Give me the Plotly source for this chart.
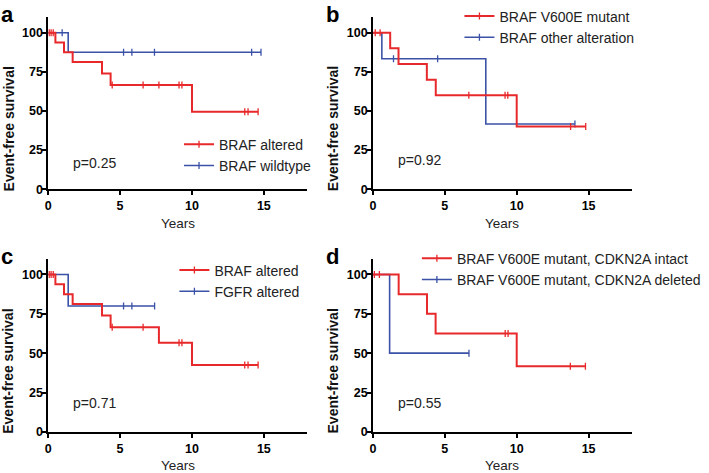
import numpy as np
import plotly.graph_objects as go

RED = "#e8292b"
BLUE = "#3b52a6"
FONT = "Liberation Sans, Arial, sans-serif"

# panel a: BRAF altered vs BRAF wildtype
a_red_t = [0, 0.5, 1.1, 1.7, 3.74, 4.34, 10.0, 14.6]
a_red_s = [100, 93.75, 87.5, 81.25, 73.9, 66.5, 49.5, 49.5]
a_red_cens = [0.07, 0.2, 0.35, 4.45, 6.6, 7.7, 9.1, 9.3, 13.67, 13.9, 14.6]
a_blue_t = [0, 1.39, 14.8]
a_blue_s = [100, 87.5, 87.5]
a_blue_cens = [0.97, 5.24, 5.82, 7.39, 14.15, 14.8]

# panel b: BRAF V600E mutant vs other alteration
b_red_t = [0, 1.2, 1.78, 3.75, 4.37, 10.0, 14.8]
b_red_s = [100, 90, 80, 70, 60, 40, 40]
b_red_cens = [0.16, 0.5, 6.67, 9.19, 9.38, 13.75, 14.8]
b_blue_t = [0, 0.62, 7.85, 14.05]
b_blue_s = [100, 83.3, 41.7, 41.7]
b_blue_cens = [1.43, 4.5, 14.05]

# panel c: BRAF altered vs FGFR altered
c_red_t = [0, 0.5, 1.1, 1.7, 3.74, 4.34, 7.7, 10.0, 14.6]
c_red_s = [100, 93.75, 87.5, 81.25, 73.9, 66.5, 56.6, 42.5, 42.5]
c_red_cens = [0.07, 0.2, 0.35, 4.45, 6.6, 9.1, 9.3, 13.67, 13.9, 14.6]
c_blue_t = [0, 1.39, 7.4]
c_blue_s = [100, 80, 80]
c_blue_cens = [5.24, 5.82, 7.4]

# panel d: V600E with CDKN2A intact vs deleted
d_red_t = [0, 1.79, 3.76, 4.36, 10.0, 14.78]
d_red_s = [100, 87.5, 75, 62.5, 41.7, 41.7]
d_red_cens = [0.1, 0.45, 9.2, 9.4, 13.73, 14.78]
d_blue_t = [0, 1.16, 6.68]
d_blue_s = [100, 50, 50]
d_blue_cens = [6.68]

panels = [
    dict(letter="a", p="p=0.25", p_y=16.5, names=["BRAF altered", "BRAF wildtype"],
         red=(a_red_t, a_red_s, a_red_cens), blue=(a_blue_t, a_blue_s, a_blue_cens),
         legend=dict(x=0.2525, y=0.728)),
    dict(letter="b", p="p=0.92", p_y=18.5, names=["BRAF V600E mutant", "BRAF other alteration"],
         red=(b_red_t, b_red_s, b_red_cens), blue=(b_blue_t, b_blue_s, b_blue_cens),
         legend=dict(x=0.648, y=0.999)),
    dict(letter="c", p="p=0.71", p_y=18.5, names=["BRAF altered", "FGFR altered"],
         red=(c_red_t, c_red_s, c_red_cens), blue=(c_blue_t, c_blue_s, c_blue_cens),
         legend=dict(x=0.246, y=0.462)),
    dict(letter="d", p="p=0.55", p_y=18.5, names=["BRAF V600E mutant, CDKN2A intact",
                                                  "BRAF V600E mutant, CDKN2A deleted"],
         red=(d_red_t, d_red_s, d_red_cens), blue=(d_blue_t, d_blue_s, d_blue_cens),
         legend=dict(x=0.588, y=0.487)),
]

# plot areas in paper coords: (x0, x1, y0, y1)
domains = [
    (0.068, 0.433, 0.600, 0.964),
    (0.526, 0.891, 0.600, 0.964),
    (0.068, 0.433, 0.087, 0.453),
    (0.526, 0.891, 0.087, 0.453),
]


def step_value(times, surv, t):
    idx = np.searchsorted(times, t, side="right") - 1
    return np.asarray(surv)[idx]


fig = go.Figure()

for i, (panel, dom) in enumerate(zip(panels, domains)):
    n = "" if i == 0 else str(i + 1)
    xa, ya = "x" + n, "y" + n
    leg = "legend" + n

    for key, color, width in (("blue", BLUE, 1.6), ("red", RED, 2.0)):
        t, s, cens = panel[key]
        fig.add_trace(go.Scatter(
            x=t, y=s, mode="lines", line=dict(color=color, width=width, shape="hv"),
            xaxis=xa, yaxis=ya, showlegend=False, hoverinfo="skip",
        ))
        fig.add_trace(go.Scatter(
            x=cens, y=step_value(t, s, cens), mode="markers",
            marker=dict(symbol="line-ns", size=5, line=dict(color=color, width=1.3)),
            xaxis=xa, yaxis=ya, showlegend=False, hoverinfo="skip",
        ))

    for name, color, width in ((panel["names"][0], RED, 2.0), (panel["names"][1], BLUE, 1.6)):
        fig.add_trace(go.Scatter(
            x=[None], y=[None], mode="lines+markers", name=name,
            line=dict(color=color, width=width),
            marker=dict(symbol="line-ns", size=5, line=dict(color=color, width=1.3)),
            xaxis=xa, yaxis=ya, legend=leg,
        ))

    fig.update_layout({
        leg: dict(x=panel["legend"]["x"], y=panel["legend"]["y"], xanchor="left", yanchor="top",
                  bgcolor="rgba(0,0,0,0)", font=dict(family=FONT, size=14, color="#222"),
                  tracegroupgap=0, itemwidth=30),
    })

    axis_common = dict(showline=True, linecolor="black", linewidth=1.6, ticks="outside",
                       ticklen=4, tickwidth=1.6, tickcolor="black", showgrid=False,
                       zeroline=False, tickfont=dict(family=FONT, size=12.5, color="black",
                                                     weight="bold"))
    fig.update_layout({
        "xaxis" + n: dict(domain=[dom[0], dom[1]], range=[0, 18], tickvals=[0, 5, 10, 15],
                          anchor=ya, **axis_common),
        "yaxis" + n: dict(domain=[dom[2], dom[3]], range=[0, 110],
                          tickvals=[0, 25, 50, 75, 100], anchor=xa,
                          ticklabelstandoff=-3, **axis_common),
    })

    # p-value
    fig.add_annotation(x=1.6, y=panel["p_y"], xref=xa, yref=ya, text=panel["p"],
                       showarrow=False, xanchor="left", yanchor="middle",
                       font=dict(family=FONT, size=14, color="#222"))
    # axis titles
    fig.add_annotation(x=(dom[0] + dom[1]) / 2, y=dom[2] - 0.072, xref="paper", yref="paper",
                       text="Years", showarrow=False, xanchor="center", yanchor="middle",
                       font=dict(family=FONT, size=13.5, color="#222"))
    fig.add_annotation(x=dom[0] - 0.056, y=dom[2] + (dom[3] - dom[2]) * 0.35, xref="paper",
                       yref="paper", text="<b>Event-free survival</b>", textangle=-90,
                       showarrow=False, xanchor="center", yanchor="middle",
                       font=dict(family=FONT, size=14, color="#111"))
    # panel letter
    fig.add_annotation(x=dom[0] - 0.069, y=dom[3] + 0.036, xref="paper", yref="paper",
                       text="<b>" + panel["letter"] + "</b>", showarrow=False,
                       xanchor="left", yanchor="top",
                       font=dict(family=FONT, size=22, color="black"))

fig.update_layout(
    width=709, height=473,
    margin=dict(l=0, r=0, t=0, b=0, autoexpand=False),
    paper_bgcolor="white", plot_bgcolor="white",
)

# page body has a default 8px margin; drop it so the figure fills the window
fig.write_html("out.html", config={"displayModeBar": False},
               post_script="document.body.style.margin = '0';")
